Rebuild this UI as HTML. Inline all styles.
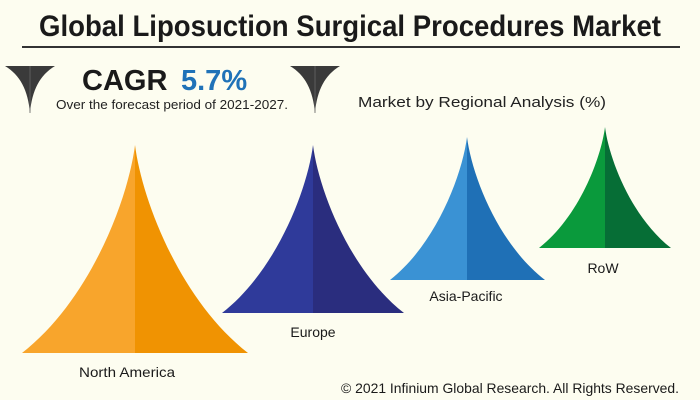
<!DOCTYPE html>
<html><head><style>
html,body{margin:0;padding:0;background:#fdfdf0;}
svg{display:block;font-family:"Liberation Sans",sans-serif;}
</style></head><body>
<svg width="700" height="400" viewBox="0 0 700 400">
<rect width="700" height="400" fill="#fdfdf0"/>
<text x="350" y="36" text-anchor="middle" font-size="30" font-weight="bold" fill="#1a1a1a" textLength="622" lengthAdjust="spacingAndGlyphs">Global Liposuction Surgical Procedures Market</text>
<rect x="22" y="46" width="658" height="2" fill="#333"/>
<g fill="#3a3a3a">
<path d="M5,66 L55,66 C40,75 32,90 30,113 C28,90 20,75 5,66Z"/>
<path d="M290,66 L340,66 C325,75 317,90 315,113 C313,90 305,75 290,66Z"/>
</g>
<path d="M30,66 L30,113" stroke="#666" stroke-width="0.8"/>
<path d="M315,66 L315,113" stroke="#666" stroke-width="0.8"/>
<text x="82" y="90" font-size="29" font-weight="bold" fill="#1a1a1a">CAGR</text>
<text x="181" y="90" font-size="29" font-weight="bold" fill="#1f72b8">5.7%</text>
<text x="56" y="109" font-size="13" fill="#222" textLength="232" lengthAdjust="spacingAndGlyphs">Over the forecast period of 2021-2027.</text>
<text x="358" y="107" font-size="15" fill="#222" textLength="248" lengthAdjust="spacingAndGlyphs">Market by Regional Analysis (%)</text>
<!-- North America -->
<path d="M135,145 C128,200 90,300 22,353 L135,353Z" fill="#f8a52c"/>
<path d="M135,145 C142,200 180,300 248,353 L135,353Z" fill="#f09302"/>
<!-- Europe -->
<path d="M313,145 C307.4,189.4 276.8,270.2 222,313 L313,313Z" fill="#2f3a9a"/>
<path d="M313,145 C318.6,189.4 349.2,270.2 404,313 L313,313Z" fill="#2a2d7e"/>
<!-- Asia-Pacific -->
<path d="M467,137 C462.2,174.8 436.4,243.5 390,280 L467,280Z" fill="#3a92d4"/>
<path d="M467,137 C471.8,174.8 497.6,243.5 545,280 L467,280Z" fill="#1f70b6"/>
<!-- RoW -->
<path d="M605,127 C600.9,159 578.7,217.1 539,248 L605,248Z" fill="#0a9a3c"/>
<path d="M605,127 C609.1,159 631.3,217.1 671,248 L605,248Z" fill="#066e36"/>
<g font-size="14" fill="#1a1a1a" text-anchor="middle">
<text x="127" y="377" textLength="96" lengthAdjust="spacingAndGlyphs">North America</text>
<text x="313" y="337">Europe</text>
<text x="466" y="301">Asia-Pacific</text>
<text x="603" y="273">RoW</text>
</g>
<text x="510" y="393" font-size="14" fill="#1a1a1a" text-anchor="middle" textLength="338" lengthAdjust="spacingAndGlyphs">© 2021 Infinium Global Research. All Rights Reserved.</text>
</svg>
</body></html>
